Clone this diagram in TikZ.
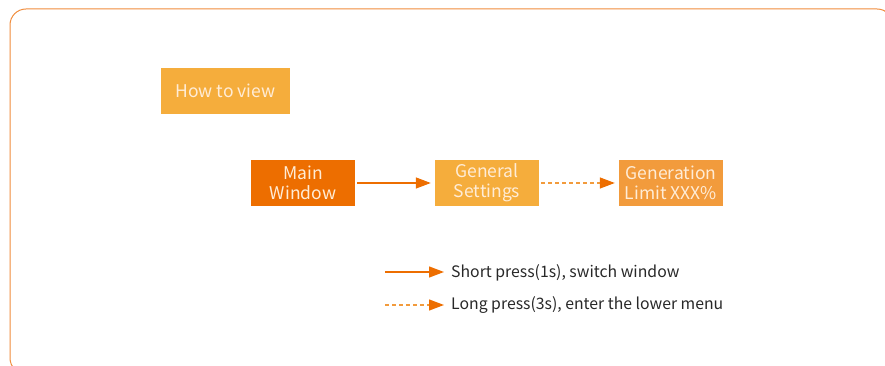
\documentclass[tikz,border=0pt]{standalone}
\usepackage{fontspec}
\setmainfont{Noto Sans CJK SC}
\usetikzlibrary{arrows.meta}

\definecolor{frameorange}{RGB}{240,140,60}
\definecolor{darkorange}{RGB}{237,110,0}
\definecolor{lightorange}{RGB}{245,173,60}
\definecolor{midorange}{RGB}{242,155,60}
\definecolor{boxtext}{RGB}{255,236,214}
\definecolor{legendtext}{RGB}{40,40,40}

\tikzset{
  menubox/.style={minimum width=104pt, minimum height=46pt, inner sep=0pt,
    text=boxtext, align=center, font=\fontsize{17.5}{20}\selectfont},
  shortpress/.style={draw=darkorange, line width=1.3pt,
    -{Triangle[length=15pt,width=11pt]}},
  longpress/.style={draw=midorange, line width=1.3pt, dash pattern=on 4pt off 3pt,
    -{Triangle[length=15pt,width=11pt,color=darkorange,fill=darkorange]}},
  legendlabel/.style={anchor=west, inner sep=0pt, text=legendtext,
    font=\fontsize{15.8}{18}\selectfont}
}

\begin{document}
\begin{tikzpicture}[x=1pt,y=1pt]
  \useasboundingbox (0,0) rectangle (885,366);
  \clip (0,0) rectangle (885,366);

  % outer frame
  \draw[frameorange, line width=1pt, rounded corners=16pt] (10,-8) rectangle (893,357);

  % title
  \node[menubox, fill=lightorange, minimum width=129pt] (howto) at (225.5,275) {How to view};

  % menu chain
  \node[menubox, fill=darkorange] (main) at (303,183) {Main\\Window};
  \node[menubox, fill=lightorange] (general) at (487,183) {General\\Settings};
  \node[menubox, fill=midorange] (limit) at (671,183) {Generation\\Limit XXX\%};

  \draw[shortpress] ([xshift=2pt]main.east) -- ([xshift=-4pt]general.west);
  \draw[longpress] ([xshift=2pt]general.east) -- ([xshift=-4pt]limit.west);

  % legend
  \coordinate (s0) at (385,94);
  \coordinate (s1) at (444,94);
  \coordinate (l0) at (385,61);
  \coordinate (l1) at (444,61);
  \draw[shortpress] (s0) -- (s1);
  \draw[longpress] (l0) -- (l1);
  \node[legendlabel] (shortlabel) at (451,93.5) {Short press(1s), switch window};
  \node[legendlabel] (longlabel) at (451,60.5) {Long press(3s), enter the lower menu};
\end{tikzpicture}
\end{document}
